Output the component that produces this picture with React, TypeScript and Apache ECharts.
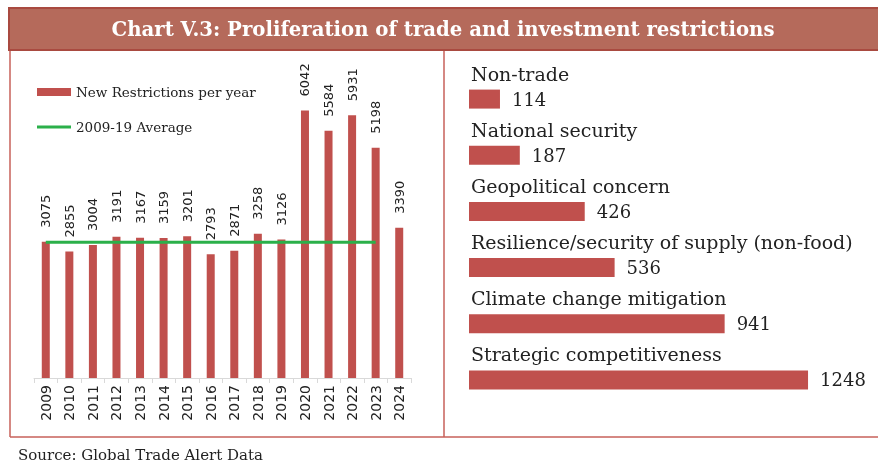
import React, { useEffect, useRef } from "react";
import * as echarts from "echarts";

const years = ["2009", "2010", "2011", "2012", "2013", "2014", "2015", "2016", "2017", "2018", "2019", "2020", "2021", "2022", "2023", "2024"];
const newRestrictions = [3075, 2855, 3004, 3191, 3167, 3159, 3201, 2793, 2871, 3258, 3126, 6042, 5584, 5931, 5198, 3390];
const average2009to19 = [3064, 3064, 3064, 3064, 3064, 3064, 3064, 3064, 3064, 3064, 3064, 3064, 3064, 3064, 3064, null];
const motives = ["Non-trade", "National security", "Geopolitical concern", "Resilience/security of supply (non-food)", "Climate change mitigation", "Strategic competitiveness"];
const motiveCounts = [114, 187, 426, 536, 941, 1248];

const TITLE = "Chart V.3: Proliferation of trade and investment restrictions";
const SOURCE = "Source: Global Trade Alert Data";
const RED = "#c0504d";
const GREEN = "#2bb04a";
const LINE = "#c7605a";

export default function App() {
  const ref = useRef<HTMLDivElement>(null);
  useEffect(() => {
    if (!ref.current) return;
    const chart = echarts.init(ref.current, null, { renderer: "svg" });
    chart.setOption({
      animation: false,
      grid: [
        { left: 34, top: 68, width: 377, height: 310 },
        { left: 469, top: 71, width: 407.5, height: 337 },
      ],
      legend: {
        data: [
          { name: "New Restrictions per year", icon: "rect" },
          { name: "2009-19 Average", icon: "path://M0,0H34V3H0Z" },
        ],
        orient: "vertical",
        left: 37,
        top: 85,
        padding: 0,
        itemWidth: 34,
        itemHeight: 8,
        itemGap: 21,
        textStyle: { fontFamily: "DejaVu Serif", fontSize: 13.5, color: "#222" },
      },
      xAxis: [
        {
          type: "category",
          gridIndex: 0,
          data: years,
          axisLine: { lineStyle: { color: "#d9d9d9", width: 1 } },
          axisTick: { show: true, length: 5, lineStyle: { color: "#d9d9d9" } },
          axisLabel: { rotate: 90, margin: 7, fontFamily: "DejaVu Sans", fontSize: 14, color: "#222" },
        },
        { type: "value", gridIndex: 1, min: 0, max: 1500, show: false },
      ],
      yAxis: [
        { type: "value", gridIndex: 0, min: 0, max: 7000, show: false },
        { type: "category", gridIndex: 1, data: motives, inverse: true, show: false },
      ],
      series: [
        {
          name: "New Restrictions per year",
          type: "bar",
          xAxisIndex: 0,
          yAxisIndex: 0,
          data: newRestrictions,
          barWidth: 8,
          itemStyle: { color: RED },
          label: {
            show: true,
            position: "top",
            rotate: 90,
            align: "left",
            verticalAlign: "middle",
            distance: 14,
            fontFamily: "DejaVu Sans",
            fontSize: 13,
            color: "#222",
          },
          z: 2,
        },
        {
          name: "2009-19 Average",
          type: "line",
          xAxisIndex: 0,
          yAxisIndex: 0,
          data: average2009to19,
          symbol: "none",
          lineStyle: { color: GREEN, width: 3 },
          itemStyle: { color: GREEN },
          z: 3,
        },
        {
          name: "Motive",
          type: "bar",
          xAxisIndex: 1,
          yAxisIndex: 1,
          data: motiveCounts,
          barWidth: 19,
          itemStyle: { color: RED },
          label: {
            show: true,
            position: "right",
            distance: 12,
            fontFamily: "DejaVu Serif",
            fontSize: 18,
            color: "#222",
          },
        },
        {
          name: "MotiveName",
          type: "bar",
          xAxisIndex: 1,
          yAxisIndex: 1,
          data: motiveCounts,
          barWidth: 19,
          barGap: "-100%",
          silent: true,
          itemStyle: { color: "rgba(0,0,0,0)" },
          label: {
            show: true,
            position: [2, -16],
            formatter: "{b}",
            align: "left",
            verticalAlign: "middle",
            fontFamily: "DejaVu Serif",
            fontSize: 19,
            color: "#222",
          },
        },
      ],
      graphic: [
        { type: "rect", shape: { x: 9, y: 8, width: 872, height: 42 }, style: { fill: "#b56a5b", stroke: "#a94a40", lineWidth: 2 } },
        {
          type: "text",
          x: 443,
          y: 29,
          style: {
            text: TITLE,
            fill: "#ffffff",
            font: "bold 19.7px 'DejaVu Serif'",
            align: "center",
            verticalAlign: "middle",
          },
        },
        { type: "line", shape: { x1: 10, y1: 51, x2: 10, y2: 437 }, style: { stroke: LINE, lineWidth: 1.5 } },
        { type: "line", shape: { x1: 444, y1: 51, x2: 444, y2: 437 }, style: { stroke: LINE, lineWidth: 1.5 } },
        { type: "line", shape: { x1: 10, y1: 437, x2: 878, y2: 437 }, style: { stroke: LINE, lineWidth: 1.5 } },
        {
          type: "text",
          x: 18,
          y: 455,
          style: { text: SOURCE, fill: "#222", font: "15px 'DejaVu Serif'", verticalAlign: "middle" },
        },
      ],
    });
    return () => chart.dispose();
  }, []);
  return <div ref={ref} style={{ position: "fixed", left: 0, top: 0, width: 878, height: 464 }} />;
}
